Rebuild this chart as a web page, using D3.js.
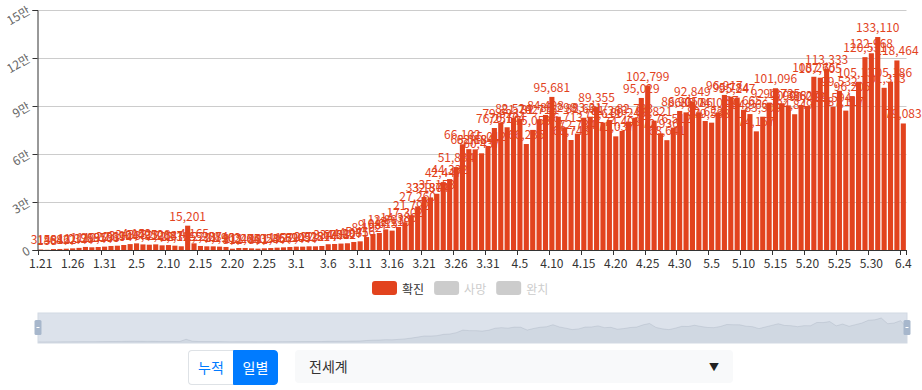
<!DOCTYPE html>
<html>
<head>
<meta charset="utf-8">
<script src="https://cdn.jsdelivr.net/npm/d3@7"></script>
<style>
  body { margin: 0; background: #fff; font-family: "Noto Sans CJK KR", "Noto Sans", sans-serif; }
  #wrap { position: relative; width: 922px; height: 390px; }
  #chart { position: absolute; left: 0; top: 0; }
  .btn-group { position: absolute; left: 188px; top: 350px; height: 35px; display: flex; }
  .btn { width: 45px; height: 35px; box-sizing: border-box; font-size: 14px; line-height: 33px; text-align: center; }
  .btn.off { background: #fff; color: #007bff; border: 1px solid #dee2e6; border-right: none; border-radius: 4px 0 0 4px; }
  .btn.on { background: #007bff; color: #fff; border: 1px solid #007bff; border-radius: 0 4px 4px 0; }
  .select { position: absolute; left: 295px; top: 350px; width: 438px; height: 33px; background: #f8f9fa; border-radius: 4px; font-size: 14px; color: #333; line-height: 33px; box-sizing: border-box; padding-left: 14px; }
  .select .arrow { position: absolute; right: 14px; top: 0; font-size: 10px; color: #222; }
</style>
</head>
<body>
<div id="wrap">
  <svg id="chart" width="922" height="345"></svg>
  <div class="btn-group"><div class="btn off">누적</div><div class="btn on">일별</div></div>
  <div class="select">전세계<span class="arrow">▼</span></div>
</div>
<script>
const dates = [
  "1.21","1.22","1.23","1.24","1.25","1.26","1.27","1.28","1.29","1.30","1.31",
  "2.1","2.2","2.3","2.4","2.5","2.6","2.7","2.8","2.9","2.10","2.11","2.12","2.13","2.14","2.15",
  "2.16","2.17","2.18","2.19","2.20","2.21","2.22","2.23","2.24","2.25","2.26","2.27","2.28","2.29",
  "3.1","3.2","3.3","3.4","3.5","3.6","3.7","3.8","3.9","3.10","3.11","3.12","3.13","3.14","3.15",
  "3.16","3.17","3.18","3.19","3.20","3.21","3.22","3.23","3.24","3.25","3.26","3.27","3.28","3.29","3.30","3.31",
  "4.1","4.2","4.3","4.4","4.5","4.6","4.7","4.8","4.9","4.10","4.11","4.12","4.13","4.14","4.15",
  "4.16","4.17","4.18","4.19","4.20","4.21","4.22","4.23","4.24","4.25","4.26","4.27","4.28","4.29","4.30",
  "5.1","5.2","5.3","5.4","5.5","5.6","5.7","5.8","5.9","5.10","5.11","5.12","5.13","5.14","5.15",
  "5.16","5.17","5.18","5.19","5.20","5.21","5.22","5.23","5.24","5.25","5.26","5.27","5.28","5.29","5.30","5.31",
  "6.1","6.2","6.3","6.4"
];

// 확진 (daily confirmed)
const confirmed = [
  314, 138, 581, 646, 822, 1017, 1328, 1913, 1695, 1878, 2103,
  2517, 2694, 3124, 3697, 4152, 3493, 3312, 3528, 2914, 3087, 2716, 2325, 15201, 4165, 2528,
  2307, 2284, 2116, 1903, 812, 1247, 1265, 1043, 861, 1058, 1236, 1457, 1662, 1894,
  2105, 2093, 2312, 2287, 2514, 3602, 3758, 4012, 4207, 4985, 5416, 8102, 9987, 10615, 12893,
  12110, 14386, 17302, 21792, 27260, 33130, 32874, 35153, 42447, 44332, 51834, 66102, 63018, 62884, 60437, 65012,
  76251, 79623, 76704, 82524, 81702, 66235, 75053, 81716, 84408, 95681, 83298, 76713, 68748, 72734, 82691,
  83317, 89355, 79611, 81263, 71037, 74408, 80249, 82703, 95029, 102799, 80821, 72936, 68641, 76512, 86905,
  86017, 92849, 86041, 80623, 79588, 86012, 96917, 95784, 95247, 87665, 84966, 74157, 83309, 92137, 101096,
  91735, 90388, 84849, 90627, 90012, 108265, 107705, 113333, 89594, 99532, 87117, 96205, 105137, 120531, 122968, 133110,
  101373, 105186, 118464, 79083
];

const yTicks = [0, 30000, 60000, 90000, 120000, 150000];
const yTickLabels = ["0", "3만", "6만", "9만", "12만", "15만"];
const legendItems = ["확진", "사망", "완치"];

const red = "#e2431e";
const svg = d3.select("#chart");

const plotLeft = 37.5, plotRight = 906.5, plotTop = 10, plotBottom = 250;

const x = d3.scaleBand().domain(dates).range([plotLeft, plotRight]);
const y = d3.scaleLinear().domain([0, 150000]).range([plotBottom, plotTop]);
const bw = x.bandwidth();

// grid
svg.append("g")
  .selectAll("line")
  .data(yTicks.slice(1))
  .enter()
  .append("line")
  .attr("x1", plotLeft).attr("x2", plotRight)
  .attr("y1", d => y(d) + 0.5).attr("y2", d => y(d) + 0.5)
  .attr("stroke", "#ccc");

// bars
svg.append("g")
  .selectAll("rect")
  .data(confirmed)
  .enter()
  .append("rect")
  .attr("x", (d, i) => x(dates[i]) + bw * 0.1)
  .attr("width", bw * 0.8)
  .attr("y", d => y(d))
  .attr("height", d => plotBottom - y(d))
  .attr("fill", red);

// y axis
const yAxis = d3.axisLeft(y)
  .tickValues(yTicks)
  .tickSize(5)
  .tickPadding(3)
  .tickFormat((d, i) => yTickLabels[i]);

const gy = svg.append("g")
  .attr("transform", `translate(${plotLeft}, 0)`)
  .call(yAxis);
gy.select(".domain").attr("stroke", "#333");
gy.selectAll(".tick line").attr("stroke", "#333");
gy.selectAll(".tick text")
  .attr("x", null).attr("dy", null)
  .attr("transform", "translate(-8, 0) rotate(-30)")
  .attr("text-anchor", "end")
  .attr("dominant-baseline", "middle")
  .attr("fill", "#666")
  .style("font-size", "12px")
  .style("font-family", "'Noto Sans CJK KR', sans-serif");

// x axis
const labelDates = dates.filter((d, i) => i % 5 === 0);
const xAxis = d3.axisBottom(x)
  .tickValues(labelDates)
  .tickSize(0)
  .tickPadding(9);

const gx = svg.append("g")
  .attr("transform", `translate(0, ${plotBottom})`)
  .call(xAxis);
gx.select(".domain").attr("stroke", "#333");
gx.selectAll(".tick text")
  .attr("fill", "#333")
  .style("font-size", "12px")
  .style("font-family", "'Noto Sans CJK KR', sans-serif");

gx.selectAll(".cat-tick")
  .data(labelDates.concat([null]))
  .enter()
  .append("line")
  .attr("class", "cat-tick")
  .attr("x1", d => d === null ? plotRight : Math.round(x(d)) + 0.5)
  .attr("x2", d => d === null ? plotRight : Math.round(x(d)) + 0.5)
  .attr("y1", 0).attr("y2", 5)
  .attr("stroke", "#333");

// value labels
svg.append("g")
  .selectAll("text")
  .data(confirmed)
  .enter()
  .append("text")
  .attr("x", (d, i) => x(dates[i]) + bw / 2)
  .attr("y", d => y(d) - 5)
  .attr("text-anchor", "middle")
  .attr("fill", red)
  .style("font-size", "12px")
  .style("font-family", "'Noto Sans CJK KR', sans-serif")
  .text(d => d3.format(",")(d));

// legend
const legend = svg.append("g").attr("transform", "translate(372, 281)");
let lx = 0;
legendItems.forEach((name, i) => {
  const on = i === 0;
  legend.append("rect")
    .attr("x", lx).attr("y", 0)
    .attr("width", 25).attr("height", 14)
    .attr("rx", 3)
    .attr("fill", on ? red : "#ccc");
  const t = legend.append("text")
    .attr("x", lx + 30).attr("y", 7)
    .attr("dominant-baseline", "central")
    .attr("fill", on ? "#333" : "#ccc")
    .style("font-size", "12px")
    .style("font-family", "'Noto Sans CJK KR', sans-serif")
    .text(name);
  lx += 30 + t.node().getComputedTextLength() + 10;
});

// data zoom slider
const zx = d3.scaleLinear().domain([0, dates.length - 1]).range([38, 907]);
const zy = d3.scaleLinear().domain([0, d3.max(confirmed)]).range([342, 318]);
const slider = svg.append("g");

slider.append("path")
  .datum(confirmed)
  .attr("d", d3.area().x((d, i) => zx(i)).y0(343).y1(d => zy(d)))
  .attr("fill", "rgba(47,69,84,0.09)");
slider.append("path")
  .datum(confirmed)
  .attr("d", d3.line().x((d, i) => zx(i)).y(d => zy(d)))
  .attr("fill", "none")
  .attr("stroke", "rgba(47,69,84,0.3)")
  .attr("stroke-width", 0.5);
slider.append("rect")
  .attr("x", 38).attr("y", 313)
  .attr("width", 869).attr("height", 30)
  .attr("fill", "rgba(167,183,204,0.4)")
  .attr("stroke", "#d2d9e3");

[38, 907].forEach(hx => {
  slider.append("rect")
    .attr("x", hx - 3.5).attr("y", 320)
    .attr("width", 7).attr("height", 15)
    .attr("rx", 1.5)
    .attr("fill", "#a7b7cc");
  slider.append("line")
    .attr("x1", hx - 1.5).attr("x2", hx + 1.5)
    .attr("y1", 327.5).attr("y2", 327.5)
    .attr("stroke", "#fff");
});
</script>
</body>
</html>
